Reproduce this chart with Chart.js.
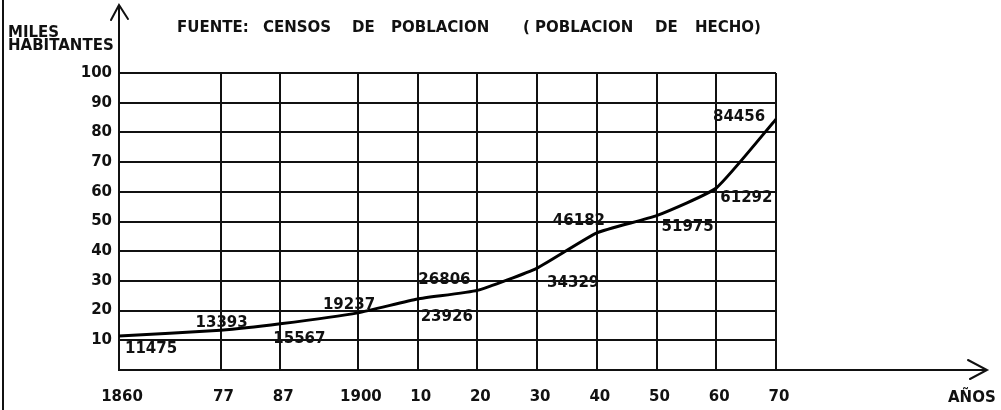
<!DOCTYPE html>
<html lang="es">
<head>
    <meta charset="UTF-8">
    <title>Censos de poblacion</title>
    <script src="https://cdn.jsdelivr.net/npm/chart.js@4.4.0/dist/chart.umd.min.js"></script>
    <style>
        body { margin: 0; background: #fff; }
        canvas { display: block; }
    </style>
</head>
<body>
    <canvas id="popChart" width="1001" height="410"></canvas>

    <script>
        // Census years and the short labels written under the axis
        const years = [1860, 1877, 1887, 1900, 1910, 1920, 1930, 1940, 1950, 1960, 1970];
        const yearLabels = ['1860', '77', '87', '1900', '10', '20', '30', '40', '50', '60', '70'];
        // Population (habitantes)
        const population = [11475, 13393, 15567, 19237, 23926, 26806, 34329, 46182, 51975, 61292, 84456];
        // Y axis ticks, in thousands
        const yTicks = [10, 20, 30, 40, 50, 60, 70, 80, 90, 100];

        // where each value label sits relative to its point [dx, dy] (left / baseline)
        const labelOffsets = [[6, 17], [-25, -3], [-7, 19], [-35, -4], [3, 22], [-59, -6],
                              [10, 19], [-44, -8], [5, 15], [4, 14], [-63, 2]];

        const ink = '#111';
        const font = '"DejaVu Sans", sans-serif';

        // Extra drawing: title, axis arrows, value labels
        const decorations = {
            id: 'decorations',
            afterDraw(chart) {
                const ctx = chart.ctx;
                const xs = chart.scales.x, ys = chart.scales.y;
                const x0 = xs.left, yb = ys.bottom, yt = ys.top;
                ctx.save();
                ctx.strokeStyle = ink;
                ctx.fillStyle = ink;
                ctx.lineCap = 'round';

                // scan border on the left
                ctx.lineWidth = 2;
                ctx.beginPath();
                ctx.moveTo(3, 0); ctx.lineTo(3, 410);
                ctx.stroke();

                // y axis extension + arrow
                ctx.lineWidth = 2;
                ctx.beginPath();
                ctx.moveTo(x0, yt); ctx.lineTo(x0, 5);
                ctx.moveTo(x0 - 8, 20); ctx.lineTo(x0, 5); ctx.lineTo(x0 + 9, 19);
                ctx.stroke();

                // x axis extension + arrow
                ctx.beginPath();
                ctx.moveTo(xs.right, yb); ctx.lineTo(987, yb);
                ctx.moveTo(968, yb - 10); ctx.lineTo(987, yb); ctx.lineTo(970, yb + 9);
                ctx.stroke();

                // titles
                ctx.font = 'bold 15px ' + font;
                ctx.textBaseline = 'alphabetic';
                ctx.textAlign = 'left';
                const title = [['FUENTE:', 177], ['CENSOS', 263], ['DE', 352], ['POBLACION', 391],
                               ['(', 523], ['POBLACION', 535], ['DE', 655], ['HECHO)', 695]];
                title.forEach(([t, x]) => ctx.fillText(t, x, 32));
                ctx.fillText('MILES', 8, 37);
                ctx.fillText('HABITANTES', 8, 50);
                ctx.fillText('AÑOS', 948, 402);

                // value labels
                population.forEach((v, i) => {
                    const px = xs.getPixelForValue(years[i]);
                    const py = ys.getPixelForValue(v / 1000);
                    const [dx, dy] = labelOffsets[i];
                    ctx.fillText(String(v), px + dx, py + dy);
                });
                ctx.restore();
            }
        };

        const ctx = document.getElementById('popChart').getContext('2d');
        new Chart(ctx, {
            type: 'line',
            data: {
                datasets: [{
                    data: years.map((y, i) => ({ x: y, y: population[i] / 1000 })),
                    borderColor: '#000',
                    borderWidth: 3,
                    pointRadius: 0,
                    tension: 0.15,
                    fill: false
                }]
            },
            options: {
                responsive: false,
                animation: false,
                layout: { padding: { top: 73, right: 225, left: 0, bottom: 0 } },
                plugins: {
                    legend: { display: false },
                    tooltip: { enabled: false }
                },
                scales: {
                    x: {
                        type: 'linear',
                        min: 1860,
                        max: 1970,
                        afterBuildTicks: s => { s.ticks = years.map(v => ({ value: v })); },
                        afterFit: s => { s.height = 40; },
                        grid: { color: ink, lineWidth: 2, drawTicks: false },
                        border: { color: ink, width: 2 },
                        ticks: {
                            autoSkip: false,
                            maxRotation: 0,
                            padding: 18,
                            labelOffset: 3,
                            color: ink,
                            font: { family: font, size: 15, weight: 'bold' },
                            callback: v => yearLabels[years.indexOf(v)]
                        }
                    },
                    y: {
                        min: 0,
                        max: 100,
                        afterBuildTicks: s => { s.ticks = [0].concat(yTicks).map(v => ({ value: v })); },
                        afterFit: s => { s.width = 119; },
                        grid: { color: ink, lineWidth: 2, drawTicks: false },
                        border: { color: ink, width: 2 },
                        ticks: {
                            padding: 7,
                            color: ink,
                            font: { family: font, size: 15, weight: 'bold' },
                            callback: v => v === 0 ? '' : v
                        }
                    }
                }
            },
            plugins: [decorations]
        });
    </script>
</body>
</html>
